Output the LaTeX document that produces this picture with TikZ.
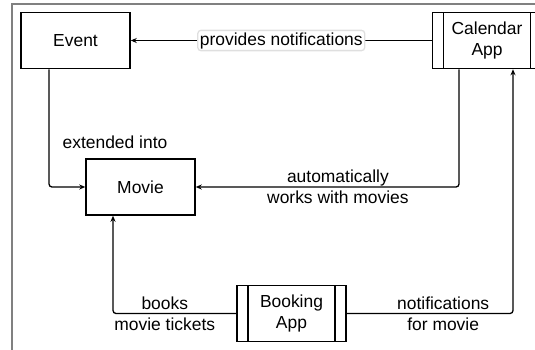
\documentclass[tikz,border=0pt]{standalone}
\usepackage{fontspec}
\setmainfont{Liberation Sans}
\usetikzlibrary{positioning,arrows.meta}
\tikzset{
>={Stealth[length=6bp,width=5bp]},
every node/.style={font=\fontsize{17.5}{21}\selectfont},
box/.style={draw, line width=1.5bp, minimum width=109bp, minimum height=56bp, align=center, inner sep=1bp},
app/.style={box, path picture={
    \draw[line width=1.2bp] ([xshift=11bp]path picture bounding box.north west) -- ([xshift=11bp]path picture bounding box.south west);
    \draw[line width=1.2bp] ([xshift=-11bp]path picture bounding box.north east) -- ([xshift=-11bp]path picture bounding box.south east);
}},
link/.style={->, line width=1.3bp, rounded corners=3bp},
tag/.style={align=center, inner sep=1bp},
}

\begin{document}
\begin{tikzpicture}[x=1bp,y=-1bp]
    \useasboundingbox (0,0) rectangle (535,349);
    \draw[gray, line width=2bp] (12,360) -- (12,4) -- (545,4);

    \node[box] (event) at (75.5,40.5) {Event};
    \node[box] (movie) at (140.5,187) {Movie};
    \node[app,right=301bp of event] (cal) {Calendar\\App};
    \node[app] (book) at (291.5,313.5) {Booking\\App};

    \draw[link] (cal.west) -- node[tag, draw=gray!25, fill=white, inner sep=2bp] {provides notifications} (event.east);
    \draw[link] ([xshift=-26.5bp]event.south) |- (movie.west);
    \node[tag] (extended) at (115,142) {extended into};
    \draw[link] ([xshift=-28bp]cal.south) |- node[tag, pos=0.73] {automatically\\works with movies} (movie.east);
    \draw[link] (book.west) -| node[tag, pos=0.29] {books\\movie tickets} ([xshift=-27.5bp]movie.south);
    \draw[link] (book.east) -| node[tag, pos=0.29] {notifications\\for movie} ([xshift=26bp]cal.south);

\end{tikzpicture}
\end{document}
